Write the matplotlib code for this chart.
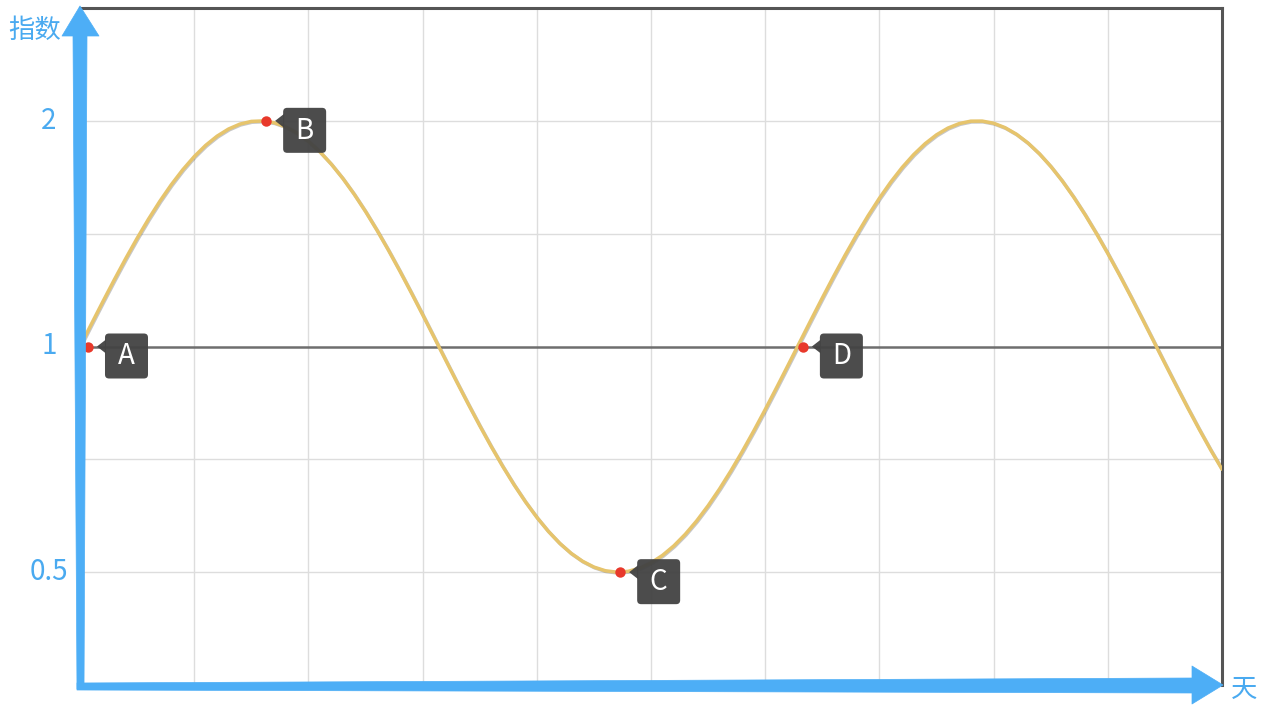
import matplotlib
matplotlib.use("Agg")
import matplotlib.pyplot as plt
import matplotlib.transforms as mtransforms
import matplotlib.patheffects as pe
from matplotlib.patches import Polygon, FancyBboxPatch
import numpy as np

plt.rcParams['font.family'] = ['Noto Sans CJK SC', 'DejaVu Sans']

# ---- data ----
index_values = [1.0000, 1.0717, 1.1476, 1.2273, 1.3099, 1.3942, 1.4790, 1.5629, 1.6442, 1.7211,
                1.7918, 1.8547, 1.9079, 1.9501, 1.9800, 1.9965, 1.9994, 1.9885, 1.9640, 1.9268,
                1.8781, 1.8190, 1.7513, 1.6768, 1.5971, 1.5141, 1.4295, 1.3448, 1.2614, 1.1804,
                1.1028, 1.0292, 0.9604, 0.8964, 0.8377, 0.7842, 0.7358, 0.6926, 0.6543, 0.6208,
                0.5918, 0.5671, 0.5465, 0.5299, 0.5171, 0.5079, 0.5022, 0.5000, 0.5013, 0.5061,
                0.5145, 0.5264, 0.5421, 0.5617, 0.5853, 0.6132, 0.6456, 0.6827, 0.7247, 0.7717,
                0.8239, 0.8814, 0.9440, 1.0117, 1.0841, 1.1608, 1.2410, 1.3240, 1.4084, 1.4933,
                1.5768, 1.6575, 1.7335, 1.8030, 1.8643, 1.9158, 1.9559, 1.9835, 1.9980, 1.9985,
                1.9853, 1.9586, 1.9194, 1.8688, 1.8082, 1.7393, 1.6638, 1.5833, 1.5000, 1.4152,
                1.3306, 1.2476, 1.1671, 1.0901, 1.0173, 0.9492, 0.8862, 0.8283, 0.7757, 0.7282,
                0.6859]
x_start, x_end = 0.0, 10.0
point_labels = ['A', 'B', 'C', 'D']
point_x = [0.07, 1.63, 4.73, 6.33]
point_y = [1.0, 2.0, 0.5, 1.0]
ytick_values = [0.5, 1, 2]
ytick_labels = ['0.5', '1', '2']
minor_grid_y = [0.7071, 1.4142]
x_grid = [1, 2, 3, 4, 5, 6, 7, 8, 9]
y_title = '指数'
x_title = '天'

x_days = np.linspace(x_start, x_end, len(index_values))

BLUE = '#4DAEF6'
TXT_BLUE = '#4AAAF0'
W, H = 1280, 728

fig = plt.figure(figsize=(12.8, 7.28), dpi=100)
ax = fig.add_axes([80 / W, (H - 685) / H, (1222 - 80) / W, (685 - 8) / H])
ax.set_yscale('log', base=2)
ax.set_xlim(x_start, x_end)
ax.set_ylim(2 ** -1.5, 2 ** 1.5)
ax.set_xticks([])
ax.set_yticks([])
ax.minorticks_off()
for s in ['left', 'bottom']:
    ax.spines[s].set_visible(False)
for s in ['top', 'right']:
    ax.spines[s].set_color('#555555')
    ax.spines[s].set_linewidth(2.2)

for gx in x_grid:
    ax.axvline(gx, color='#dddddd', lw=1.0, zorder=1)
for gy in ytick_values + minor_grid_y:
    if gy == 1:
        ax.axhline(gy, color='#6e6e6e', lw=1.8, zorder=2)
    else:
        ax.axhline(gy, color='#dddddd', lw=1.0, zorder=1)

ax.plot(x_days, index_values, color='#E6C46C', lw=2.5, zorder=3,
        solid_joinstyle='round', solid_capstyle='round',
        path_effects=[pe.SimpleLineShadow(offset=(0.6, -0.6), alpha=0.22), pe.Normal()])
ax.plot(point_x, point_y, 'o', color='#E8392B', ms=7.5, zorder=5, mec='none')

# label callouts
for lab, px, py in zip(point_labels, point_x, point_y):
    t = mtransforms.ScaledTranslation(px, py, ax.transData)
    tri = Polygon([(9, 0), (18, 7), (18, -7)], closed=True, transform=t,
                  facecolor='#444444', edgecolor='none', alpha=0.96, zorder=6)
    box = FancyBboxPatch((17, -32), 43, 45, boxstyle='round,pad=0,rounding_size=4',
                         transform=t, facecolor='#444444', edgecolor='none',
                         alpha=0.96, zorder=6)
    fig.add_artist(tri)
    fig.add_artist(box)
    fig.text(38.5, -10, lab, transform=t, color='white', fontsize=20,
             ha='center', va='center', zorder=7)

# y tick labels
bt = mtransforms.blended_transform_factory(fig.transFigure, ax.transData)
for v, l in zip(ytick_values, ytick_labels):
    fig.text(49 / W, v, l, transform=bt, color=TXT_BLUE, fontsize=20,
             ha='center', va='center')


def P(x, y):
    return (x / W, 1 - y / H)


# axis arrows
yarrow = [P(77, 689), P(73, 36), P(62, 36), P(80, 6), P(99, 36), P(87, 36), P(84, 689)]
xarrow = [P(77, 683), P(1192, 678), P(1192, 666), P(1223, 685), P(1192, 704), P(1192, 693), P(77, 690)]
for pts in (yarrow, xarrow):
    fig.add_artist(Polygon(pts, closed=True, transform=fig.transFigure,
                           facecolor=BLUE, edgecolor=BLUE, lw=0.5,
                           joinstyle='round', zorder=8))

fig.text(35 / W, 1 - 30 / H, y_title, color=TXT_BLUE, fontsize=19,
         ha='center', va='center')
fig.text(1244 / W, 1 - 689 / H, x_title, color=TXT_BLUE, fontsize=19,
         ha='center', va='center')

fig.savefig('out.png', dpi=100)
